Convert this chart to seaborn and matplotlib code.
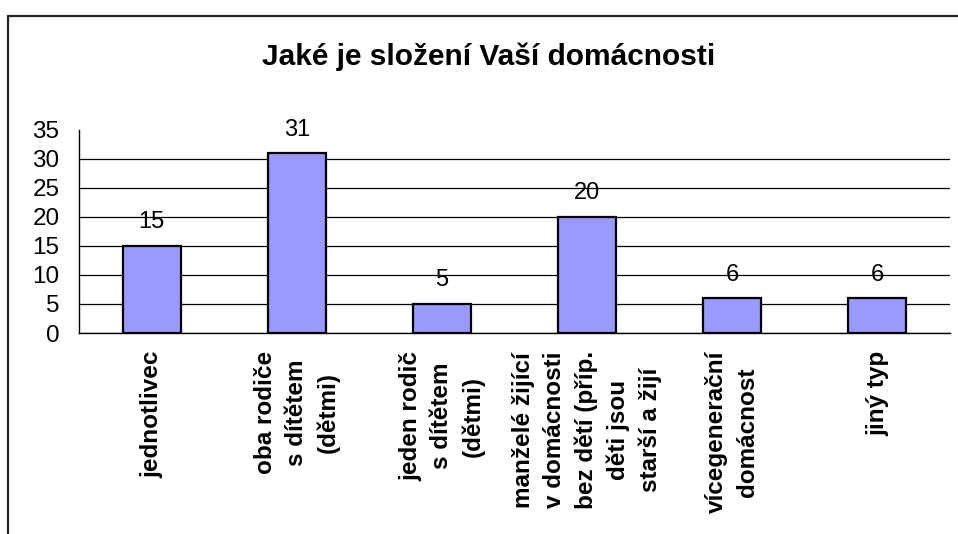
import numpy as np
import seaborn as sns
import matplotlib
matplotlib.use('Agg')
from matplotlib import pyplot as plt
from matplotlib.lines import Line2D

categories = ['jednotlivec',
              'oba rodiče\ns dítětem\n(dětmi)',
              'jeden rodič\ns dítětem\n(dětmi)',
              'manželé žijící\nv domácnosti\nbez dětí (příp.\nděti jsou\nstarší a žijí',
              'vícegenerační\ndomácnost',
              'jiný typ']
counts = [15, 31, 5, 20, 6, 6]
y_ticks = [0, 5, 10, 15, 20, 25, 30, 35]
title = 'Jaké je složení Vaší domácnosti'

sns.set_style('white')
plt.rcParams['font.family'] = ['Liberation Sans', 'DejaVu Sans']
plt.rcParams['text.color'] = 'black'
plt.rcParams['xtick.color'] = 'black'
plt.rcParams['ytick.color'] = 'black'
plt.rcParams['xtick.labelcolor'] = 'black'
plt.rcParams['ytick.labelcolor'] = 'black'

fig = plt.figure(figsize=(9.58, 5.34), dpi=100)
ax = fig.add_axes([79 / 958, 1 - 333 / 534, (950 - 79) / 958, (333 - 130) / 534])

sns.barplot(x=list(range(len(counts))), y=counts, color='#9999FF', saturation=1,
            edgecolor='black', linewidth=1.6, width=0.4, ax=ax)

for c in ax.containers:
    ax.bar_label(c, labels=[str(v) for v in counts], padding=9, fontsize=17,
                 color='black')

n = len(categories)
ax.set_xlim(-0.5, n - 0.5)
ax.set_ylim(0, 35)
ax.set_yticks(y_ticks)
ax.set_yticklabels([str(v) for v in y_ticks], fontsize=17.5)
ax.set_xticks(np.arange(n + 1) - 0.5)
ax.set_xticklabels([''] * (n + 1))
ax.set_xticks(np.arange(n), minor=True)
ax.set_xticklabels(categories, minor=True, rotation=90, fontsize=17.5,
                   fontweight='bold', va='top', ha='center',
                   multialignment='center', linespacing=1.45)
ax.tick_params(axis='x', which='minor', length=0, pad=13)
ax.tick_params(axis='both', which='major', direction='out', length=6,
               width=1, color='black')
ax.tick_params(axis='y', pad=8)
ax.set_xlabel('')
ax.set_ylabel('')

ax.yaxis.grid(True, color='black', linewidth=0.9)
ax.set_axisbelow(True)
ax.yaxis.get_gridlines()[-1].set_visible(False)

for s in ['top', 'right']:
    ax.spines[s].set_visible(False)
for s in ['left', 'bottom']:
    ax.spines[s].set_color('black')
    ax.spines[s].set_linewidth(1)

fig.text(0.51, 1 - 57 / 534, title, ha='center', va='center',
         fontsize=21.5, fontweight='bold', color='black')

# chart frame (only top and left edges are in view)
fig.add_artist(Line2D([8 / 958, 1], [1 - 15.5 / 534, 1 - 15.5 / 534],
                      color='#222222', linewidth=1.6))
fig.add_artist(Line2D([8 / 958, 8 / 958], [0, 1 - 15.5 / 534],
                      color='#222222', linewidth=1.6))

fig.savefig('out.png', dpi=100)
